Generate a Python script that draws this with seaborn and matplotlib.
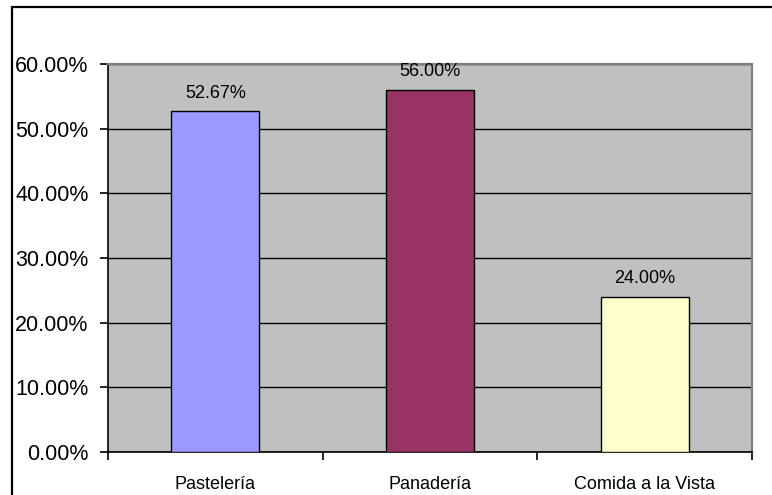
import matplotlib
matplotlib.use("Agg")
import matplotlib.pyplot as plt
import matplotlib.patches as mpatches
from matplotlib.ticker import FixedLocator, PercentFormatter
import pandas as pd
import seaborn as sns

# Data
categories = ["Pastelería", "Panadería", "Comida a la Vista"]
shares = [0.5267, 0.56, 0.24]
bar_colors = ["#9999FF", "#993366", "#FFFFCC"]
y_ticks = [0.0, 0.1, 0.2, 0.3, 0.4, 0.5, 0.6]

sns.set_theme(style="white")
plt.rcParams["font.family"] = ["Liberation Sans", "DejaVu Sans"]

df = pd.DataFrame({"categoria": categories, "porcentaje": shares})

fig = plt.figure(figsize=(7.72, 4.95), dpi=100)
fig.patch.set_facecolor("white")
ax = fig.add_axes([108 / 772, 1 - 452 / 495, (752 - 108) / 772, (452 - 64) / 495])
ax.set_facecolor("#C0C0C0")

sns.barplot(data=df, x="categoria", y="porcentaje", hue="categoria",
            palette=bar_colors, legend=False, width=0.41,
            edgecolor="black", linewidth=1.0, saturation=1, ax=ax, zorder=3)

ax.set_xlim(-0.5, len(categories) - 0.5)
ax.set_ylim(0, 0.6)
ax.set_xlabel("")
ax.set_ylabel("")

# Horizontal gridlines
ax.yaxis.set_major_locator(FixedLocator(y_ticks))
ax.yaxis.set_major_formatter(PercentFormatter(xmax=1, decimals=2))
ax.grid(axis="y", color="black", linewidth=1.0, zorder=1)
ax.grid(axis="x", visible=False)
ax.set_axisbelow(True)

# Spines
for side in ("left", "bottom"):
    ax.spines[side].set_color("black")
    ax.spines[side].set_linewidth(1.2)
for side in ("top", "right"):
    ax.spines[side].set_color("#808080")
    ax.spines[side].set_linewidth(1.6)

# Ticks: y outward, x at category boundaries
ax.tick_params(axis="y", which="major", direction="out", length=6, width=1.2,
               color="black", left=True, labelsize=15.5, pad=8, labelcolor="black")
ax.tick_params(axis="x", which="major", length=0, labelsize=13, pad=17,
               labelcolor="black")
ax.xaxis.set_minor_locator(FixedLocator([i + 0.5 for i in range(-1, len(categories))]))
ax.tick_params(axis="x", which="minor", direction="out", length=6, width=1.2,
               color="black", bottom=True)

# Value labels above bars
for container in ax.containers:
    ax.bar_label(container, labels=[f"{v:.2%}" for v in container.datavalues],
                 padding=7, fontsize=13, color="black")

# Chart border
fig.add_artist(mpatches.Rectangle((12 / 772, -0.1), 1.2, 1.1 - 7 / 495,
                                  transform=fig.transFigure, fill=False,
                                  edgecolor="black", linewidth=1.6,
                                  clip_on=False))

fig.savefig("out.png", dpi=100, facecolor="white")
